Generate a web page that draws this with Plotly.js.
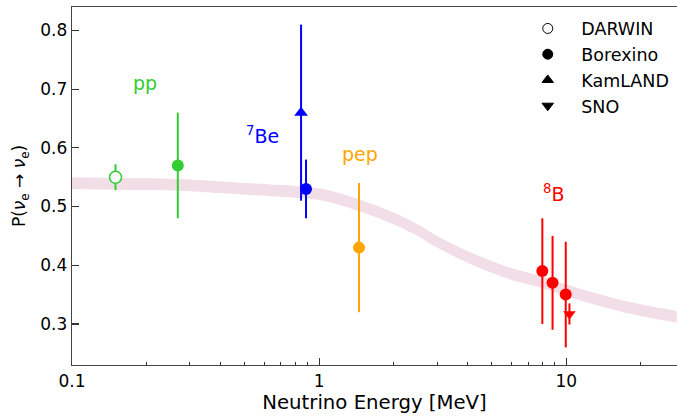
<!DOCTYPE html>
<html>
<head>
<meta charset="utf-8">
<script src="https://cdn.plot.ly/plotly-3.0.1.min.js"></script>
<style>html,body{margin:0;padding:0;background:#fff;}#chart{width:677px;height:417px;}</style>
</head>
<body>
<div id="chart"></div>
<script>
// Oscillation band
const bandE     = [0.1, 0.2, 0.3, 0.5, 0.8, 1.0, 1.2, 1.5, 2.0, 2.5, 3.0, 4.0, 5.0, 6.0, 8.0, 10, 13, 17, 22, 28];
const bandLower = [0.530, 0.528, 0.526, 0.520, 0.515, 0.511, 0.503, 0.490, 0.470, 0.450, 0.430, 0.404, 0.387, 0.375, 0.361, 0.347, 0.333, 0.320, 0.310, 0.302];
const bandUpper = [0.550, 0.548, 0.546, 0.540, 0.535, 0.531, 0.523, 0.510, 0.490, 0.470, 0.450, 0.424, 0.407, 0.395, 0.381, 0.367, 0.353, 0.340, 0.330, 0.322];

// Measurements
const darwinE = [0.15],  darwinP = [0.55],  darwinErr = [0.022];
const ppE = [0.268], ppP = [0.57], ppErr = [0.09];
const kamE = [0.845], kamP = [0.66], kamErr = [0.15];
const be7E = [0.885], be7P = [0.53], be7Err = [0.05];
const pepE = [1.45], pepP = [0.43], pepErr = [0.11];
const b8E = [8.0, 8.8, 9.95], b8P = [0.39, 0.37, 0.35], b8Err = [0.09, 0.08, 0.09];
const snoE = [10.3], snoP = [0.317], snoErr = [0.018];

// Labels
const labelText = ['pp', '<sup>7</sup>Be', 'pep', '<sup>8</sup>B'];
const labelE = [0.198, 0.59, 1.46, 8.94];
const labelP = [0.71, 0.622, 0.59, 0.523];
const labelColor = ['#33cc33', '#0000ff', '#ffa500', '#ff0000'];

const legendNames = ['DARWIN', 'Borexino', 'KamLAND', 'SNO'];
const legendSymbols = ['circle-open', 'circle', 'triangle-up', 'triangle-down'];

const GREEN = '#33cc33', BLUE = '#0000ff', ORANGE = '#ffa500', RED = '#ff0000';

function pts(x, y, err, color, symbol, size, fill) {
  return {
    x: x, y: y, type: 'scatter', mode: 'markers', showlegend: false, hoverinfo: 'skip',
    error_y: {type: 'data', array: err, visible: true, color: color, thickness: 2, width: 0},
    marker: {color: fill || color, symbol: symbol, size: size, line: {color: color, width: fill ? 1.5 : 0}}
  };
}

const traces = [
  {x: bandE, y: bandLower, type: 'scatter', mode: 'lines', line: {width: 0, color: '#f2dee6', shape: 'spline'}, showlegend: false, hoverinfo: 'skip'},
  {x: bandE, y: bandUpper, type: 'scatter', mode: 'lines', line: {width: 0, color: '#f2dee6', shape: 'spline'}, fill: 'tonexty', fillcolor: '#f2dee6', showlegend: false, hoverinfo: 'skip'},
  pts(darwinE, darwinP, darwinErr, GREEN, 'circle', 12, '#ffffff'),
  pts(ppE, ppP, ppErr, GREEN, 'circle', 12),
  pts(kamE, kamP, kamErr, BLUE, 'triangle-up', 12),
  pts(be7E, be7P, be7Err, BLUE, 'circle', 12),
  pts(pepE, pepP, pepErr, ORANGE, 'circle', 12),
  pts(b8E, b8P, b8Err, RED, 'circle', 12),
  pts(snoE, snoP, snoErr, RED, 'triangle-down', 11)
];

legendNames.forEach((n, i) => {
  traces.push({x: [null], y: [null], type: 'scatter', mode: 'markers', name: n,
    marker: {symbol: legendSymbols[i], color: '#000', size: 10, line: {color: '#000', width: 1}}});
});

const annotations = labelText.map((t, i) => ({
  x: Math.log10(labelE[i]), y: labelP[i], xref: 'x', yref: 'y', text: t, showarrow: false,
  font: {family: 'DejaVu Sans', size: 19, color: labelColor[i]}
}));

const layout = {
  width: 677, height: 417,
  margin: {l: 72, r: 0, t: 7, b: 52, autoexpand: false},
  paper_bgcolor: '#fff', plot_bgcolor: '#fff',
  font: {family: 'DejaVu Sans', color: '#000'},
  showlegend: true,
  legend: {x: 0.731, y: 0.99, xanchor: 'left', yanchor: 'top', bgcolor: 'rgba(0,0,0,0)', traceorder: 'normal',
    font: {family: 'DejaVu Sans', size: 17.5, color: '#000'}, itemwidth: 57},
  xaxis: {
    type: 'log', range: [-1, 1.448],
    tickvals: [0.1, 1, 10], ticktext: ['0.1', '1', '10'],
    ticks: 'inside', ticklen: 7, tickwidth: 1.2, tickcolor: '#333',
    showline: true, linecolor: '#444', linewidth: 1.3, mirror: true,
    showgrid: false, zeroline: false,
    tickfont: {family: 'DejaVu Sans', size: 17, color: '#000'},
    title: {text: 'Neutrino Energy [MeV]', font: {family: 'DejaVu Sans', size: 19.7, color: '#000'}, standoff: 4}
  },
  xaxis2: {
    type: 'log', range: [-1, 1.448], overlaying: 'x', anchor: 'y', side: 'bottom',
    tickvals: [0.2,0.3,0.4,0.5,0.6,0.7,0.8,0.9,2,3,4,5,6,7,8,9,20],
    ticks: 'inside', ticklen: 3.5, tickwidth: 1, tickcolor: '#333',
    showticklabels: false, showline: false, showgrid: false, zeroline: false
  },
  yaxis: {
    range: [0.23, 0.84],
    tickvals: [0.3, 0.4, 0.5, 0.6, 0.7, 0.8], ticktext: ['0.3','0.4','0.5','0.6','0.7','0.8'],
    ticks: 'inside', ticklen: 7, tickwidth: 1.2, tickcolor: '#333',
    showline: true, linecolor: '#444', linewidth: 1.3,
    showgrid: false, zeroline: false,
    tickfont: {family: 'DejaVu Sans', size: 17, color: '#000'},
    title: {text: 'P(<i>ν</i><sub>e</sub> → <i>ν</i><sub>e</sub>)', font: {family: 'DejaVu Sans', size: 17, color: '#000'}, standoff: 10}
  },
  annotations: annotations
};

traces.push({x: [null], y: [null], xaxis: 'x2', yaxis: 'y', type: 'scatter', showlegend: false, hoverinfo: 'skip'});

Plotly.newPlot('chart', traces, layout, {staticPlot: true, displayModeBar: false});
</script>
</body>
</html>
